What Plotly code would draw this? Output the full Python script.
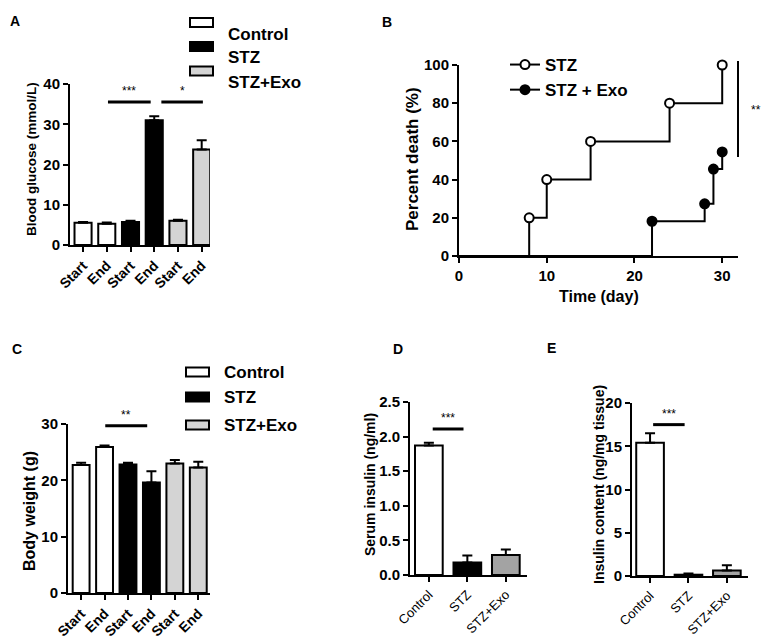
import plotly.graph_objects as go

# --- data ---
timepoints = ["Start", "End", "Start", "End", "Start", "End"]
groups = ["Control", "STZ", "STZ+Exo"]

# A: blood glucose (mmol/L)
glucose_mean = [5.5, 5.3, 5.7, 31.0, 6.0, 23.7]
glucose_sem = [0.2, 0.3, 0.3, 1.0, 0.3, 2.3]

# B: percent death over time
stz_days = [0, 8, 10, 15, 24, 30]
stz_death = [0, 20, 40, 60, 80, 100]
exo_days = [0, 22, 28, 29, 30]
exo_death = [0, 18.2, 27.3, 45.5, 54.5]

# C: body weight (g)
weight_mean = [22.7, 25.9, 22.8, 19.6, 23.0, 22.3]
weight_sem = [0.4, 0.3, 0.3, 2.0, 0.6, 1.0]

# D: serum insulin (ng/ml)
serum_mean = [1.87, 0.18, 0.29]
serum_sem = [0.04, 0.10, 0.08]

# E: insulin content (ng/mg tissue)
content_mean = [15.4, 0.15, 0.65]
content_sem = [1.1, 0.15, 0.6]

# significance marks: (from bar, to bar, height, label)
sig_a = [(1.05, 2.85, 35.5, "***"), (3.3, 5.05, 35.5, "*")]
sig_c = [(1.03, 2.82, 29.7, "**")]
sig_d = [(0.1, 0.9, 2.11, "***")]
sig_e = [(0.08, 0.9, 17.5, "***")]

FONT = "Liberation Sans, Arial, sans-serif"
fill_light = ["white", "black", "#d4d4d4"]
fill_dark = ["white", "black", "#a3a3a3"]

fig = go.Figure()


def add_bars(means, sems, fills, n_per, xa, ya):
    for g in range(len(groups)):
        idx = list(range(g * n_per, (g + 1) * n_per))
        fig.add_trace(go.Bar(
            x=idx, y=[means[i] for i in idx],
            error_y=dict(type="data", symmetric=False,
                         array=[sems[i] for i in idx], arrayminus=[0] * n_per,
                         color="black", thickness=2, width=5),
            marker=dict(color=fills[g], line=dict(color="black", width=2)),
            width=0.72, xaxis=xa, yaxis=ya, showlegend=False, name=groups[g]))


add_bars(glucose_mean, glucose_sem, fill_light, 2, "x", "y")
add_bars(weight_mean, weight_sem, fill_light, 2, "x3", "y3")
add_bars(serum_mean, serum_sem, fill_dark, 1, "x4", "y4")
add_bars(content_mean, content_sem, fill_dark, 1, "x5", "y5")

# B: step curves, markers on event points only
for days, death, fill, name in [(stz_days, stz_death, "white", "STZ"),
                                (exo_days, exo_death, "black", "STZ + Exo")]:
    fig.add_trace(go.Scatter(x=days, y=death, mode="lines", line=dict(color="black", width=2, shape="hv"),
                             xaxis="x2", yaxis="y2", showlegend=False, cliponaxis=False))
    fig.add_trace(go.Scatter(x=days[1:], y=death[1:], mode="markers",
                             marker=dict(size=9, color=fill, line=dict(color="black", width=2)),
                             xaxis="x2", yaxis="y2", showlegend=False, cliponaxis=False))
    fig.add_trace(go.Scatter(x=[None], y=[None], mode="lines+markers", name=name,
                             line=dict(color="black", width=2),
                             marker=dict(size=9, color=fill, line=dict(color="black", width=2)),
                             xaxis="x2", yaxis="y2", legend="legend", legendgroup=name))

W, H = 763, 644


def px(x):
    return x / W


def py(y):
    return 1 - y / H


bold = dict(family=FONT, size=15, color="black", weight="bold")
base_axis = dict(showline=True, linewidth=2, linecolor="black", ticks="outside", ticklen=5,
                 tickwidth=2, tickcolor="black", showgrid=False, zeroline=False,
                 tickfont=bold, automargin=False)
rot_bold = dict(family=FONT, size=14, color="black", weight="bold")
rot_plain = dict(family=FONT, size=13, color="black")

fig.update_layout(
    width=W, height=H, margin=dict(l=0, r=0, t=0, b=0, pad=0),
    paper_bgcolor="white", plot_bgcolor="white", barmode="overlay",
    font=dict(family=FONT, color="black"),
    xaxis=dict(base_axis, domain=[px(70), px(210)], range=[-0.55, 5.35], anchor="y",
               tickvals=list(range(6)), ticktext=timepoints, tickangle=-45, tickfont=rot_bold),
    yaxis=dict(base_axis, domain=[py(245), py(84)], range=[0, 40], anchor="x",
               tickvals=[0, 10, 20, 30, 40]),
    xaxis2=dict(base_axis, domain=[px(459), px(738)], range=[0, 31.8], anchor="y2",
                tickvals=[0, 10, 20, 30]),
    yaxis2=dict(base_axis, domain=[py(256), py(65)], range=[0, 100], anchor="x2",
                tickvals=[0, 20, 40, 60, 80, 100]),
    xaxis3=dict(base_axis, domain=[px(68), px(210)], range=[-0.56, 5.5], anchor="y3",
                tickvals=list(range(6)), ticktext=timepoints, tickangle=-45, tickfont=rot_bold),
    yaxis3=dict(base_axis, domain=[py(593), py(424)], range=[0, 30], anchor="x3",
                tickvals=[0, 10, 20, 30]),
    xaxis4=dict(base_axis, domain=[px(410), px(527)], range=[-0.49, 2.55], anchor="y4",
                tickvals=[0, 1, 2], ticktext=groups, tickangle=-45, tickfont=rot_plain),
    yaxis4=dict(base_axis, domain=[py(575), py(402)], range=[0, 2.5], anchor="x4",
                tickvals=[0, 0.5, 1.0, 1.5, 2.0, 2.5], tickformat=".1f"),
    xaxis5=dict(base_axis, domain=[px(632), px(748)], range=[-0.47, 2.55], anchor="y5",
                tickvals=[0, 1, 2], ticktext=groups, tickangle=-45, tickfont=rot_plain),
    yaxis5=dict(base_axis, domain=[py(576), py(403)], range=[0, 20], anchor="x5",
                tickvals=[0, 5, 10, 15, 20]),
    legend=dict(x=px(505), y=py(47), xanchor="left", yanchor="top", bgcolor="rgba(0,0,0,0)",
                font=dict(family=FONT, size=17, color="black", weight="bold"),
                itemwidth=30, tracegroupgap=0),
)

shapes = []
annotations = []

# axis titles (pixel centres measured on the reference)
for text, x, y, angle, size in [("Blood glucose (mmol/L)", 31, 159, -90, 13.5),
                                ("Percent death (%)", 412, 159, -90, 17),
                                ("Time (day)", 599, 296, 0, 16),
                                ("Body weight (g)", 29, 511, -90, 16),
                                ("Serum insulin (ng/ml)", 370, 485, -90, 14),
                                ("Insulin content (ng/mg tissue)", 599, 485, -90, 14)]:
    annotations.append(dict(xref="paper", yref="paper", x=px(x), y=py(y), text=text, textangle=angle,
                            showarrow=False, xanchor="center", yanchor="middle",
                            font=dict(family=FONT, size=size, color="black", weight="bold")))

# significance bars
for sigs, xa, ya in [(sig_a, "x", "y"), (sig_c, "x3", "y3"), (sig_d, "x4", "y4"), (sig_e, "x5", "y5")]:
    for x0, x1, h, lab in sigs:
        shapes.append(dict(type="line", xref=xa, yref=ya, x0=x0, x1=x1, y0=h, y1=h,
                           line=dict(color="black", width=3)))
        annotations.append(dict(xref=xa, yref=ya, x=(x0 + x1) / 2, y=h, text=lab, showarrow=False,
                                yanchor="bottom", yshift=2, font=dict(family=FONT, size=12, color="black")))

# B log-rank bracket
shapes.append(dict(type="line", xref="paper", yref="paper", x0=px(738), x1=px(738),
                   y0=py(157), y1=py(61), line=dict(color="black", width=2)))
annotations.append(dict(xref="paper", yref="paper", x=px(756), y=py(101), text="**", showarrow=False,
                        xanchor="center", font=dict(family=FONT, size=12, color="black")))

# bar legends for A and C
for rows, tx in [([22.5, 46.5, 71], 226), ([372, 397, 425], 222)]:
    for g, yc in enumerate(rows):
        x0 = tx - 36
        shapes.append(dict(type="rect", xref="paper", yref="paper", x0=px(x0), x1=px(x0 + 23),
                           y0=py(yc + 4.5), y1=py(yc - 4.5), fillcolor=fill_light[g],
                           line=dict(color="black", width=2)))
        annotations.append(dict(xref="paper", yref="paper", x=px(tx), y=py(yc), text=groups[g],
                                showarrow=False, xanchor="left",
                                font=dict(family=FONT, size=17, color="black", weight="bold")))

# panel letters
for lab, x, y in [("A", 8, 11), ("B", 387, 12), ("C", 10, 349), ("D", 398, 349), ("E", 558, 348)]:
    annotations.append(dict(xref="paper", yref="paper", x=px(x), y=py(y), text=lab, showarrow=False,
                            font=dict(family=FONT, size=14, color="black", weight="bold")))

fig.update_layout(shapes=shapes, annotations=annotations)

# the page body has a default 8px margin; drop it so the figure sits at the window origin
fig.write_html("out.html", config={"displayModeBar": False},
               post_script="document.body.style.margin='0';")
